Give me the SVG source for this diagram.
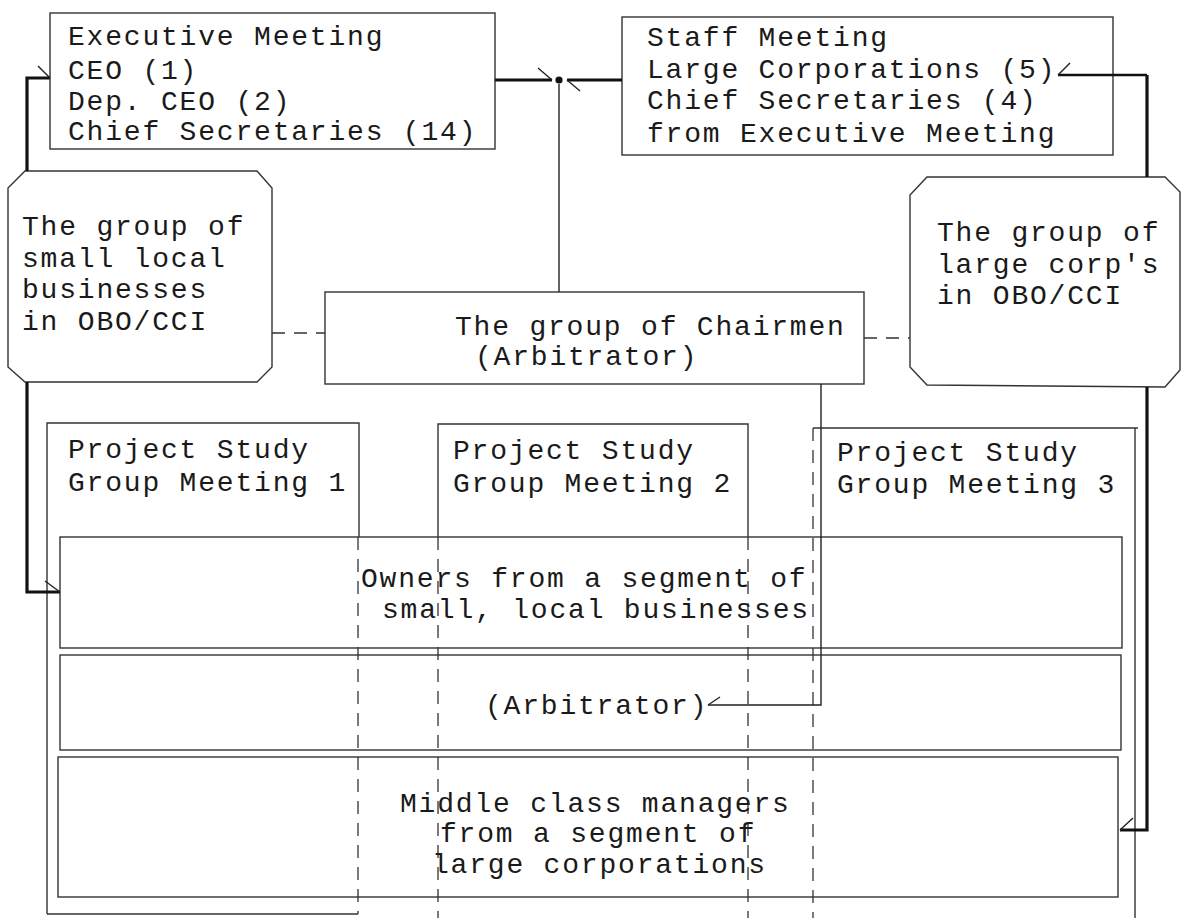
<svg xmlns="http://www.w3.org/2000/svg" width="1183" height="918" viewBox="0 0 1183 918">
<style>
text{font-family:"Liberation Mono","DejaVu Sans Mono",monospace;font-size:28px;letter-spacing:1.8px;fill:#1a1a1a}
.box{fill:none;stroke:#333;stroke-width:1.4}
.dash{fill:none;stroke:#333;stroke-width:1.3;stroke-dasharray:13 9}
.thick{fill:none;stroke:#111;stroke-width:3.2}
.thin{fill:none;stroke:#222;stroke-width:1.4}
.barb{fill:none;stroke:#222;stroke-width:1.4}
</style>
<rect width="1183" height="918" fill="#fff"/>

<g id="psg1">
<path class="box" d="M47,914 V423 H359 V537"/>
<path class="dash" d="M358,537 V914"/>
<path class="box" d="M47,914 H358"/>
<text x="68" y="458">Project Study</text>
<text x="68" y="491">Group Meeting 1</text>
</g>
<g id="psg2">
<path class="box" d="M438,537 V424 H748 V537"/>
<path class="dash" d="M438,537 V918 M748,537 V918"/>
<text x="453" y="459">Project Study</text>
<text x="453" y="492">Group Meeting 2</text>
</g>
<g id="psg3">
<path class="box" d="M813,428 H1138 M1135,428 V918"/>
<path class="dash" d="M813,428 V918"/>
<text x="837" y="461">Project Study</text>
<text x="837" y="493">Group Meeting 3</text>
</g>

<g id="exec">
<rect class="box" x="50" y="13" width="445" height="136"/>
<text x="68" y="45">Executive Meeting</text>
<text x="68" y="79">CEO (1)</text>
<text x="68" y="110">Dep. CEO (2)</text>
<text x="68" y="140">Chief Secretaries (14)</text>
</g>
<g id="staff">
<rect class="box" x="622" y="17" width="491" height="138"/>
<text x="647" y="46">Staff Meeting</text>
<text x="647" y="78">Large Corporations (5)</text>
<text x="647" y="109">Chief Secretaries (4)</text>
<text x="647" y="142">from Executive Meeting</text>
</g>
<g id="small-group">
<polygon class="box" points="25,171 257,171 272,188 272,367 257,382 25,382 8,367 8,188"/>
<text x="22" y="235">The group of</text>
<text x="22" y="267">small local</text>
<text x="22" y="298">businesses</text>
<text x="22" y="330">in OBO/CCI</text>
</g>
<g id="large-group">
<polygon class="box" points="927,177 1165,177 1180,192 1180,370 1165,387 927,385 910,367 910,195"/>
<text x="937" y="241">The group of</text>
<text x="937" y="273">large corp's</text>
<text x="937" y="304">in OBO/CCI</text>
</g>
<g id="chairmen">
<rect class="box" x="325" y="292" width="539" height="92"/>
<text x="455" y="335">The group of Chairmen</text>
<text x="475" y="365">(Arbitrator)</text>
</g>
<g id="owners">
<rect class="box" x="60" y="537" width="1062" height="111"/>
<text x="361" y="587">Owners from a segment of</text>
<text x="382" y="618">small, local businesses</text>
</g>
<g id="arbitrator">
<rect class="box" x="60" y="655" width="1061" height="95"/>
<text x="485" y="714">(Arbitrator)</text>
</g>
<g id="middle">
<rect class="box" x="58" y="757" width="1060" height="140"/>
<text x="400" y="812">Middle class managers</text>
<text x="440" y="842">from a segment of</text>
<text x="432" y="873">large corporations</text>
</g>

<g id="connectors">
<path class="thick" d="M495,80 H552"/>
<path class="thick" d="M622,80 H567"/>
<path class="barb" d="M538,68 L552,80 M567,80 L580,91"/>
<circle cx="559" cy="80" r="3.6" fill="#111"/>
<path class="thin" d="M559,84 V292"/>
<path class="thick" d="M27,171 V78 H50"/>
<path class="barb" d="M38,66 L50,78"/>
<path class="thick" d="M27,382 V592 H60"/>
<path class="barb" d="M45,581 L60,592"/>
<path class="thick" d="M1147,177 V75"/>
<path d="M1147,75 H1058" fill="none" stroke="#111" stroke-width="2.4"/>
<path class="barb" d="M1058,75 L1070,63"/>
<path class="thick" d="M1147,387 V830 H1120"/>
<path class="barb" d="M1120,830 L1133,818"/>
<path class="thin" d="M821,384 V705 H708"/>
<path class="barb" d="M708,705 L720,697"/>
<path class="dash" d="M272,333 H325"/>
<path class="dash" d="M864,338 H910"/>
</g>
</svg>
